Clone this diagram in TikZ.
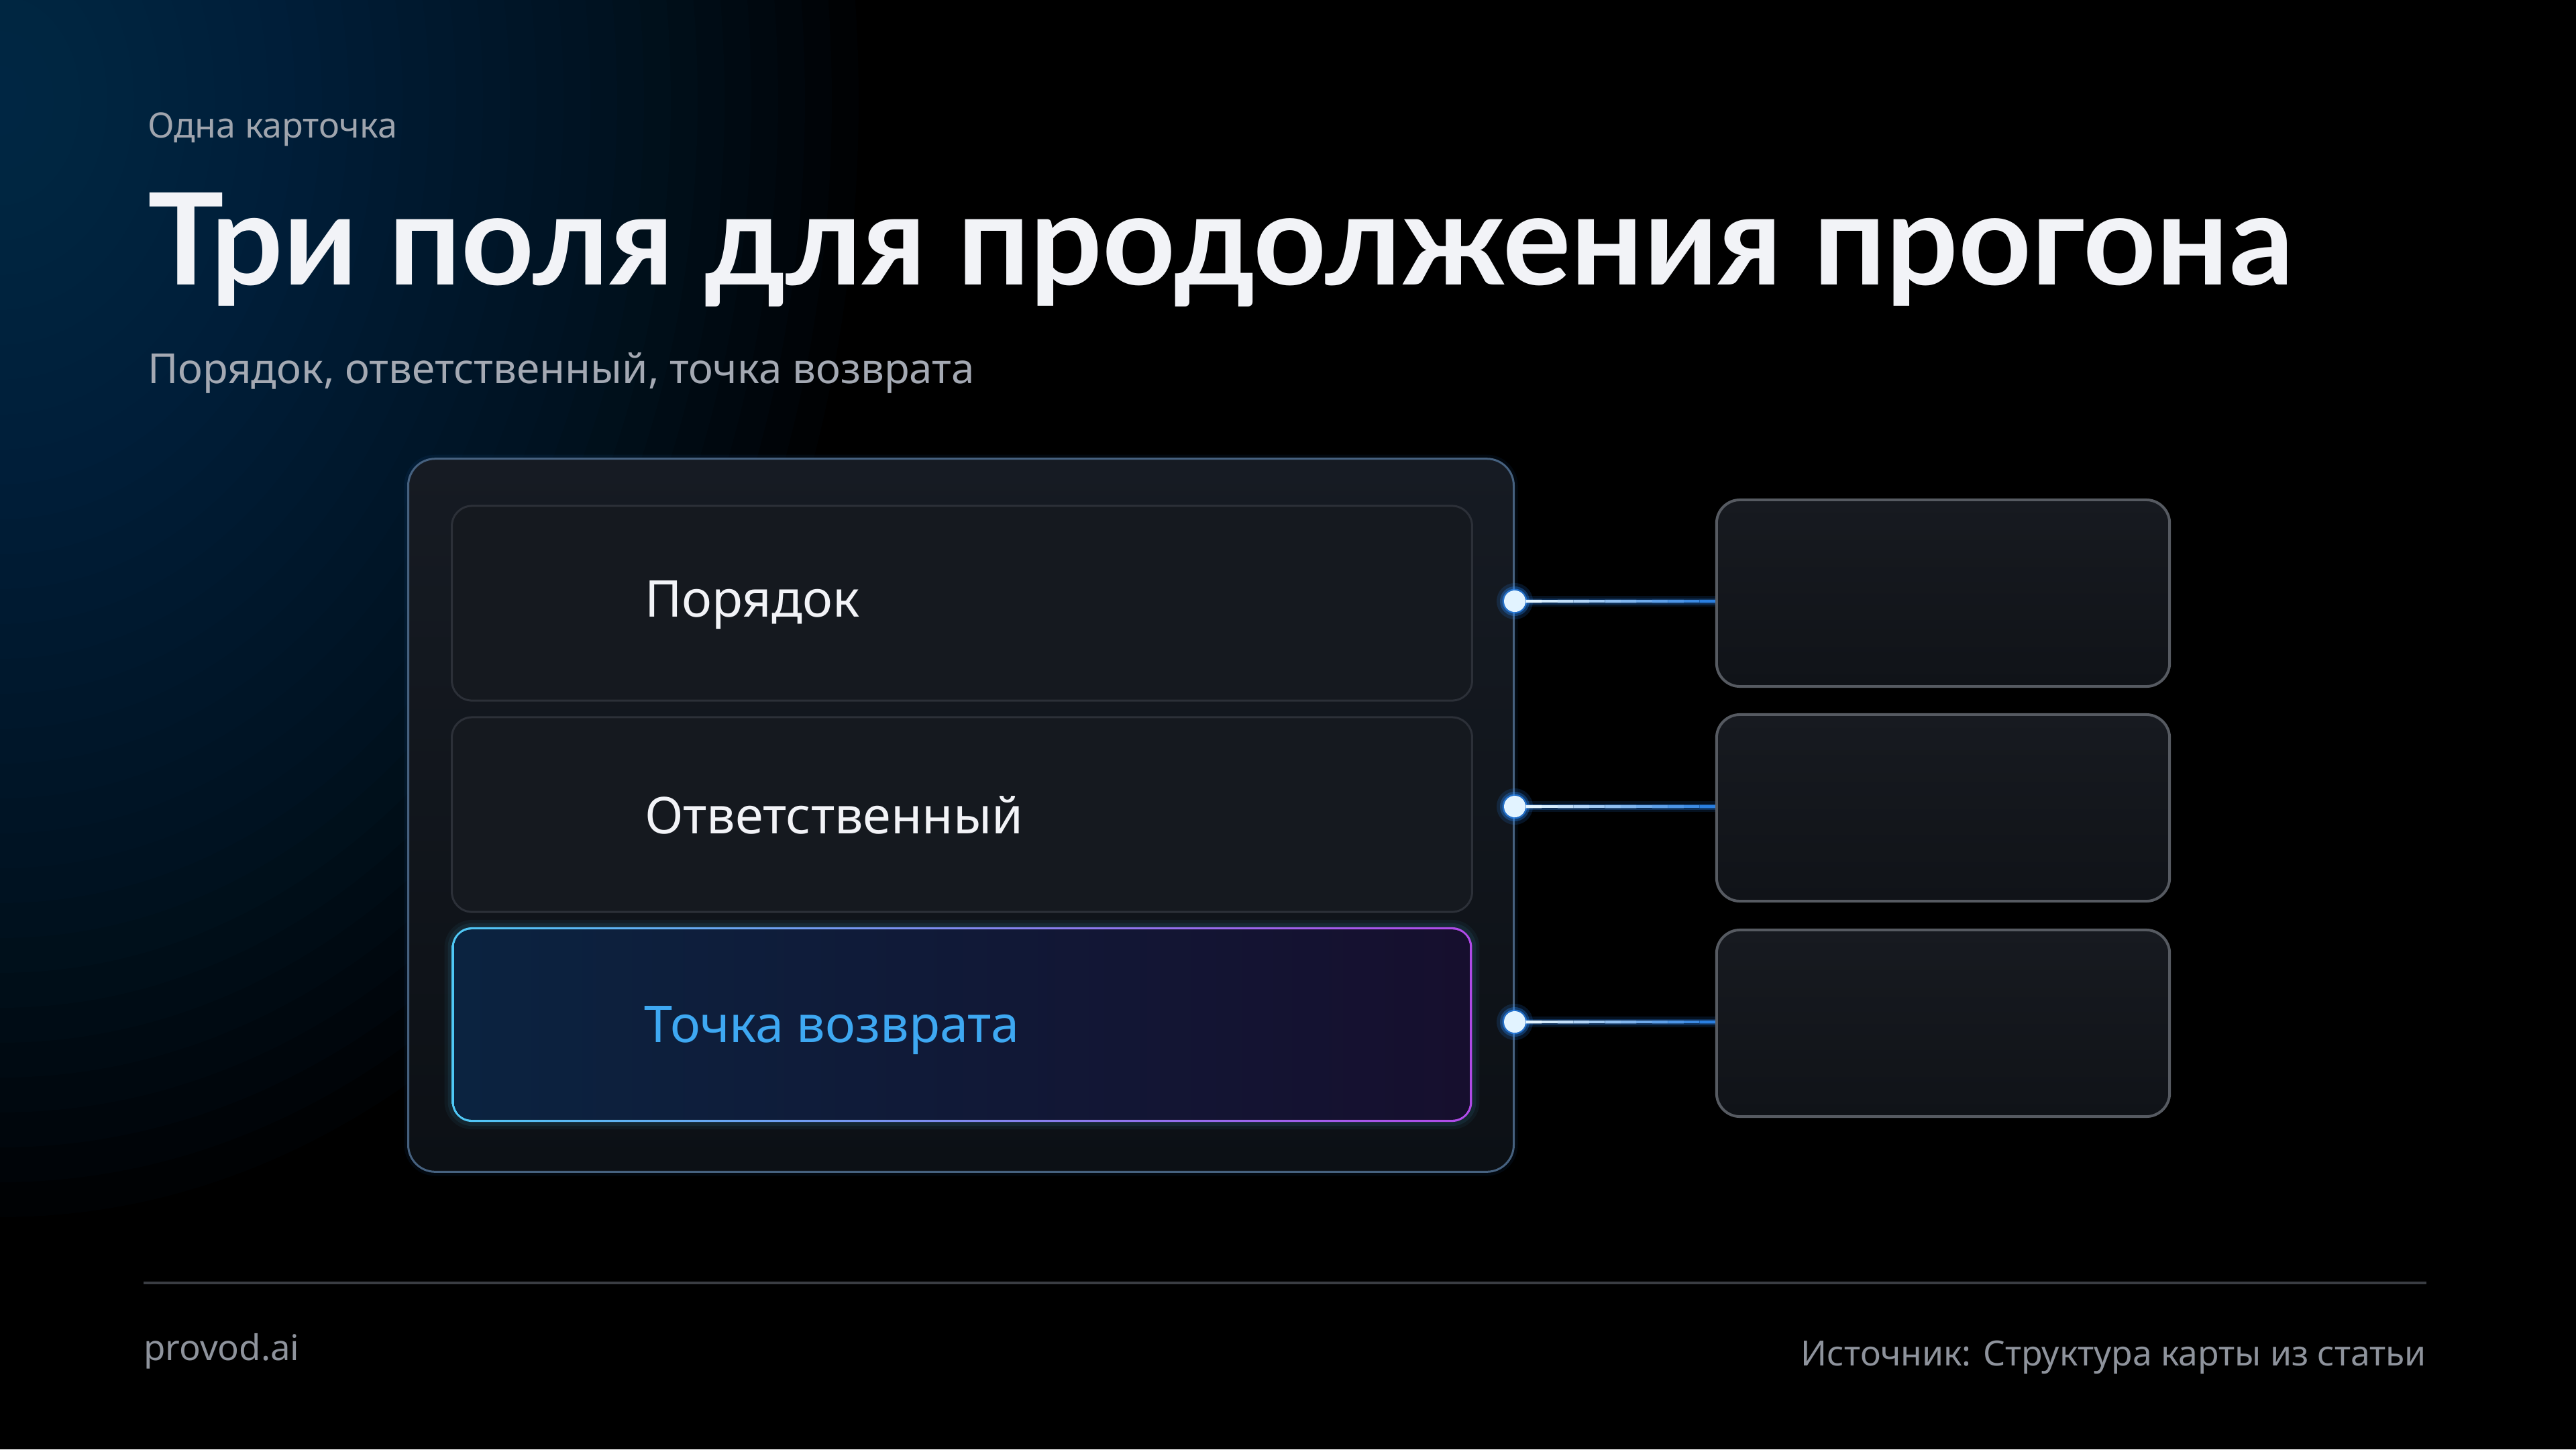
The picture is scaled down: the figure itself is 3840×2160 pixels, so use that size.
\documentclass[tikz,border=0pt]{standalone}
\usepackage{fontspec}
\setmainfont{Noto Sans}
\newfontfamily\titlefont{Lato}
\usetikzlibrary{calc}
\definecolor{glowcol}{HTML}{0F3D66}
\definecolor{kickergray}{HTML}{A0A5AE}
\definecolor{titlewhite}{HTML}{F2F3F7}
\definecolor{subgray}{HTML}{A4A9B3}
\definecolor{cardtop}{HTML}{161B23}
\definecolor{cardbot}{HTML}{0C1015}
\definecolor{cardedge}{HTML}{46617F}
\definecolor{rowfill}{HTML}{15191F}
\definecolor{rowedge}{HTML}{2C3038}
\definecolor{boxtop}{HTML}{171A20}
\definecolor{boxbot}{HTML}{101318}
\definecolor{boxedge}{HTML}{565A61}
\definecolor{hlcyan}{HTML}{4FC8F5}
\definecolor{hlpurple}{HTML}{B04AE8}
\definecolor{hldarkL}{HTML}{0B2340}
\definecolor{hldarkR}{HTML}{160F2E}
\definecolor{hltext}{HTML}{3EA8F2}
\definecolor{lineA}{HTML}{E4F4FF}
\definecolor{lineB}{HTML}{2A7FE0}
\definecolor{glowblue}{HTML}{2A8CFF}
\definecolor{dotfill}{HTML}{E2F3FF}
\definecolor{footgray}{HTML}{8E939C}
\definecolor{footline}{HTML}{3A3D43}
\tikzset{
  txt/.style={inner sep=0pt, outer sep=0pt},
  outercard/.style={rectangle, rounded corners=0.4cm, draw=cardedge, line width=0.03cm,
     top color=cardtop, bottom color=cardbot, minimum width=16.47cm, minimum height=10.62cm},
  rowbox/.style={rectangle, rounded corners=0.3cm, draw=rowedge, line width=0.03cm,
     fill=rowfill, minimum width=15.2cm, minimum height=2.9cm},
  rightbox/.style={rectangle, rounded corners=0.35cm, draw=boxedge, line width=0.04cm,
     top color=boxtop, bottom color=boxbot, minimum width=6.75cm, minimum height=2.78cm},
  dotnode/.style={circle, fill=dotfill, minimum size=0.32cm, inner sep=0pt,
     preaction={draw=glowblue, line width=0.22cm, opacity=.15},
     preaction={draw=glowblue, line width=0.12cm, opacity=.3},
     preaction={draw=glowblue, line width=0.05cm, opacity=.6}},
  lineglowwide/.style={draw=glowblue, line width=0.16cm, opacity=.12},
  lineglow/.style={draw=glowblue, line width=0.09cm, opacity=.25},
  rowlabel/.style={txt, anchor=base west, font=\fontsize{21.5}{26}\selectfont},
}
\begin{document}
\begin{tikzpicture}[x=0.01cm,y=-0.01cm]
\useasboundingbox (0,0) rectangle (3840,2160);
\fill[black] (0,0) rectangle (3840,2160);
\begin{scope}
  \clip (0,0) rectangle (3840,2160);
  \foreach \r in {1,...,32}{
    \fill[glowcol, opacity=0.045] (0,150) ellipse ({\r*40} and {\r*52});
  }
\end{scope}

% header texts
\node[txt, anchor=base west, text=kickergray, font=\fontsize{14.8}{18}\selectfont] (kicker) at (220,205) {Одна карточка};
\node[txt, anchor=base west, text=titlewhite, font=\titlefont\fontsize{54}{62}\selectfont\bfseries] (title) at (220,424) {Три поля для продолжения прогона};
\node[txt, anchor=base west, text=subgray, font=\fontsize{17.6}{21}\selectfont] (subtitle) at (220,571) {Порядок, ответственный, точка возврата};

% outer card
\node[outercard, preaction={draw=glowblue, line width=0.12cm, opacity=.06, rounded corners=0.4cm}] (card) at (1432.5,1215) {};

% rows
\node[rowbox] (r1) at (1434,899) {};
\node[rowbox] (r2) at (1434,1214) {};
\node[rowbox, draw=none, fill=none,
      preaction={draw=hlcyan, line width=0.22cm, opacity=.05, rounded corners=0.3cm},
      preaction={draw=hlcyan, line width=0.12cm, opacity=.08, rounded corners=0.3cm},
      left color=hlcyan, right color=hlpurple] (r3) at (1434,1527) {};
\fill[left color=hldarkL, right color=hldarkR, rounded corners=0.26cm]
  ($(r3.south west)+(5,-5)$) rectangle ($(r3.north east)+(-5,5)$);

\node[rowlabel, text=titlewhite] (l1) at (961,919) {Порядок};
\node[rowlabel, text=titlewhite] (l2) at (961,1242) {Ответственный};
\node[rowlabel, text=hltext] (l3) at (960,1553) {Точка возврата};

% right boxes
\node[rightbox] (b1) at (2896.5,884) {};
\node[rightbox] (b2) at (2896.5,1204) {};
\node[rightbox] (b3) at (2896.5,1525) {};

% dots
\node[dotnode] (d1) at (2258,896) {};
\node[dotnode] (d2) at (2258,1202) {};
\node[dotnode] (d3) at (2258,1523) {};
\coordinate (e1) at (b1.west |- d1);
\coordinate (e2) at (b2.west |- d2);
\coordinate (e3) at (b3.west |- d3);

% connectors
\foreach \k in {1,2,3}{
  \draw[lineglowwide] (d\k.east) -- (e\k);
  \draw[lineglow] (d\k.east) -- (e\k);
  \foreach \i in {0,...,11}{
    \pgfmathsetmacro\fa{\i/12}
    \pgfmathsetmacro\fb{(\i+1)/12}
    \pgfmathtruncatemacro\pct{100*\i/11}
    \colorlet{segc}{lineB!\pct!lineA}
    \draw[segc, line width=0.045cm] ($(d\k.east)!\fa!(e\k)$) -- ($(d\k.east)!\fb!(e\k)$);
  }
}

% footer
\coordinate (fl) at (214,1912);
\coordinate (fr) at (3617,1912);
\draw[footline, line width=0.04cm] (fl) -- (fr);
\node[txt, anchor=base west, text=footgray, font=\fontsize{15}{18}\selectfont] (brand) at (214,2027) {provod.ai};
\node[txt, anchor=base east, text=footgray, font=\fontsize{14.7}{18}\selectfont] (source) at (3617,2035) {Источник: Структура карты из статьи};
\end{tikzpicture}
\end{document}
